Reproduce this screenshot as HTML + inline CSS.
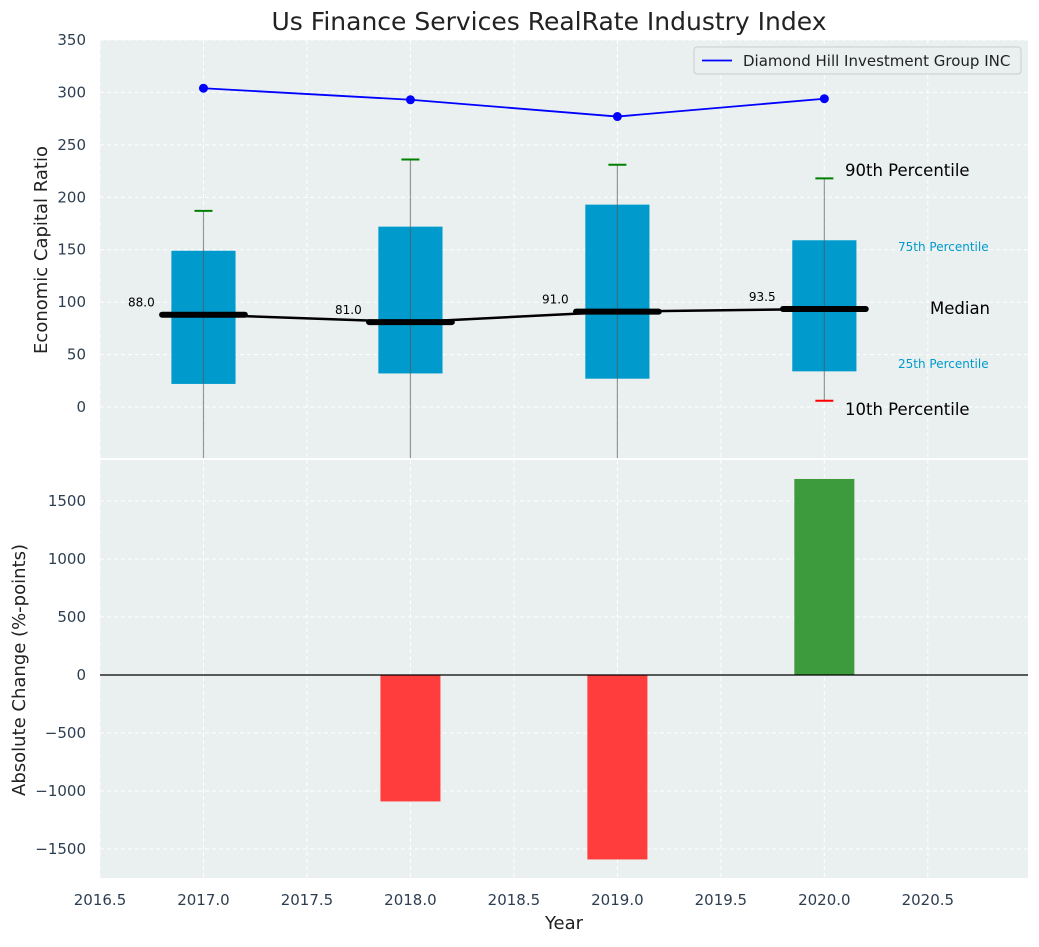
<!DOCTYPE html>
<html><head><meta charset="utf-8"><style>
body{margin:0;background:#fff;font-family:"Liberation Sans","DejaVu Sans",sans-serif;}
svg text{font-family:"DejaVu Sans","Liberation Sans",sans-serif;}
</style></head><body>
<svg id="c" width="1039" height="942" xmlns="http://www.w3.org/2000/svg"></svg>
<script>
const years=[2017,2018,2019,2020];
const lineVals=[304,293,277,294];
const q1=[22,32,27,34];
const q3=[149,172,193,159];
const medians=[88,81,91,93.5];
const p90=[187,236,231,218];
const p10=[-80,-80,-80,6];
const changes=[0,-1090,-1590,1690];
const xTicks=[2016.5,2017,2017.5,2018,2018.5,2019,2019.5,2020,2020.5];
const yTopTicks=[0,50,100,150,200,250,300,350];
const yBotTicks=[-1500,-1000,-500,0,500,1000,1500];

const svg=document.getElementById('c');
const NS='http://www.w3.org/2000/svg';
function mk(tag,attrs,parent){const e=document.createElementNS(NS,tag);for(const k in attrs)e.setAttribute(k,attrs[k]);(parent||svg).appendChild(e);return e;}
const fmt=v=>String(v).replace('-','\u2212');
const L=100,R=1028;
const x=v=>L+(v-2016.5)*(R-L)/(2020.984-2016.5);
const T0=40,T1=458;
const yt=v=>407-v*(407-40)/350;
const B0=460,B1=878;
const yb=v=>675-v*0.116;

let e=mk('rect',{x:L,y:T0,width:R-L,height:T1-T0,fill:'#eaeff0'});

e=mk('rect',{x:L,y:B0,width:R-L,height:B1-B0,fill:'#eaeff0'});


xTicks.forEach(t=>{
  mk('line',{x1:x(t),x2:x(t),y1:T0,y2:T1,stroke:'#fff','stroke-dasharray':'4,3','stroke-width':1});
  mk('line',{x1:x(t),x2:x(t),y1:B0,y2:B1,stroke:'#fff','stroke-dasharray':'4,3','stroke-width':1});
  const tx=mk('text',{x:x(t),y:905,'text-anchor':'middle','font-size':15,fill:'#2d3e50'});tx.textContent=t.toFixed(1);
  
});
yTopTicks.forEach(t=>{
  mk('line',{x1:L,x2:R,y1:yt(t),y2:yt(t),stroke:'#fff','stroke-dasharray':'4,3'});
  const tx=mk('text',{x:86,y:yt(t)+5,'text-anchor':'end','font-size':15,fill:'#2d3e50'});tx.textContent=fmt(t);
  
});
yBotTicks.forEach(t=>{
  mk('line',{x1:L,x2:R,y1:yb(t),y2:yb(t),stroke:'#fff','stroke-dasharray':'4,3'});
  const tx=mk('text',{x:86,y:yb(t)+5,'text-anchor':'end','font-size':15,fill:'#2d3e50'});tx.textContent=fmt(t);
  
});

const defs=mk('defs',{});
const cp=mk('clipPath',{id:'ct'},defs);mk('rect',{x:L,y:T0,width:R-L,height:T1-T0},cp);
const gT=mk('g',{'clip-path':'url(#ct)'});

const bw=0.155;
years.forEach((yr,i)=>{
  let r=mk('rect',{x:x(yr-bw),y:yt(q3[i]),width:x(yr+bw)-x(yr-bw),height:yt(q1[i])-yt(q3[i]),fill:'#009bcc'},gT);
  
  mk('line',{x1:x(yr),x2:x(yr),y1:yt(p90[i]),y2:yt(p10[i]),stroke:'#555','stroke-opacity':0.6,'stroke-width':1.2},gT);
  let w=mk('line',{x1:x(yr)-9,x2:x(yr)+9,y1:yt(p90[i]),y2:yt(p90[i]),stroke:'green','stroke-width':2},gT);
  
  if(p10[i]>-48){let m=mk('line',{x1:x(yr)-9,x2:x(yr)+9,y1:yt(p10[i]),y2:yt(p10[i]),stroke:'red','stroke-width':2},gT);
  }
});
mk('polyline',{points:years.map((yr,i)=>x(yr)+','+yt(medians[i])).join(' '),fill:'none',stroke:'#000','stroke-width':2.5},gT);
years.forEach((yr,i)=>{
  let m=mk('line',{x1:x(yr-0.2),x2:x(yr+0.2),y1:yt(medians[i]),y2:yt(medians[i]),stroke:'#000','stroke-width':6,'stroke-linecap':'round'},gT);
  
  let t=mk('text',{x:x(yr-0.3),y:yt(medians[i])-8,'text-anchor':'middle','font-size':12,fill:'#000'});t.textContent=medians[i].toFixed(1);
  
});
let pl=mk('polyline',{points:years.map((yr,i)=>x(yr)+','+yt(lineVals[i])).join(' '),fill:'none',stroke:'#0000ff','stroke-width':1.8},gT);

years.forEach((yr,i)=>{let c=mk('circle',{cx:x(yr),cy:yt(lineVals[i]),r:4.5,fill:'#0000ff'},gT);
});

function txt(s,xx,yy,size,col,anchor,name){const t=mk('text',{x:xx,y:yy,'font-size':size,fill:col,'text-anchor':anchor||'start'});t.textContent=s;return t;}
txt('90th Percentile',845,176,16.5,'#000','start','p90-annotation');
txt('75th Percentile',898,251,12,'#009bcc','start','p75-annotation');
txt('Median',930,314,16.5,'#000','start','median-annotation');
txt('25th Percentile',898,368,12,'#009bcc','start','p25-annotation');
txt('10th Percentile',845,415,16.5,'#000','start','p10-annotation');

let lg=mk('rect',{x:694,y:47,width:327,height:27,fill:'#eaeff0',stroke:'#ccc',rx:3});

mk('line',{x1:702,x2:732,y1:60.5,y2:60.5,stroke:'#0000ff','stroke-width':1.8});
txt('Diamond Hill Investment Group INC',743,66,15,'#222','start','legend-entry');

const bwb=0.145;
years.forEach((yr,i)=>{if(!changes[i])return;
  const v=changes[i];
  let r=mk('rect',{x:x(yr-bwb),y:Math.min(yb(0),yb(v)),width:x(yr+bwb)-x(yr-bwb),height:Math.abs(yb(v)-yb(0)),fill:v<0?'#ff3d3d':'#3d9a3d'});
  
});
mk('line',{x1:L,x2:R,y1:yb(0),y2:yb(0),stroke:'#000','stroke-width':1.2});

txt('Us Finance Services RealRate Industry Index',549,30,25,'#222','middle','chart-title');
txt('Year',564,929,18,'#222','middle','x-axis-title');
let a=txt('Economic Capital Ratio',47,250,18,'#222','middle','y-top-axis-title');a.setAttribute('transform','rotate(-90 47 250)');
a=txt('Absolute Change (%-points)',25,670,18,'#222','middle','y-bottom-axis-title');a.setAttribute('transform','rotate(-90 25 670)');
</script>
</body></html>
